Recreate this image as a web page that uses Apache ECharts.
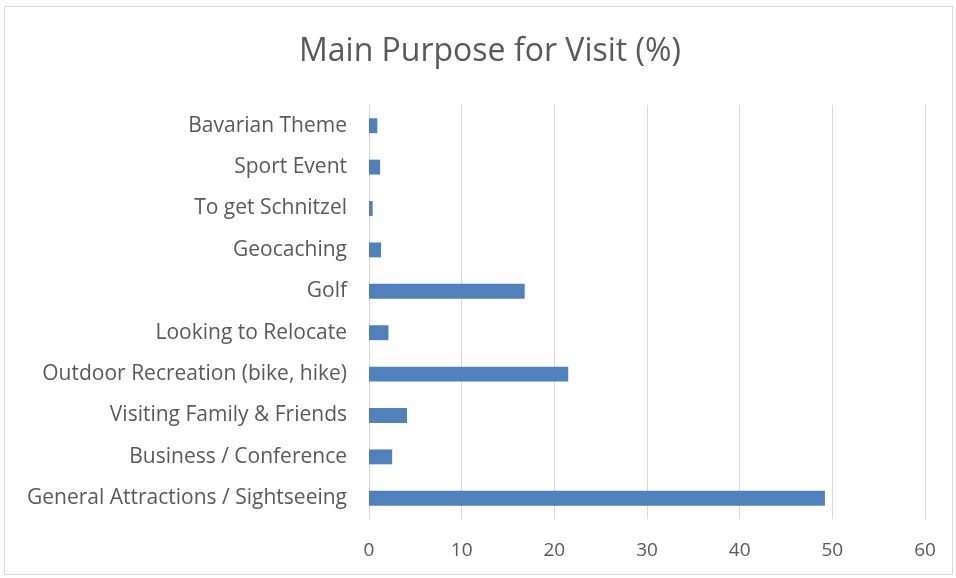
<!DOCTYPE html>
<html>
<head>
<meta charset="UTF-8">
<title></title>
<script src="https://cdn.jsdelivr.net/npm/echarts@6/dist/echarts.min.js"></script>
<style>
  body { margin: 0; background: #fff; }
</style>
</head>
<body>
	<div id="main" style="width: 956px; height: 578px;"></div>
	<script>
		// categories bottom-to-top, as the category axis draws them
		var purposes = ['General Attractions / Sightseeing', 'Business / Conference', 'Visiting Family & Friends',
			'Outdoor Recreation (bike, hike)', 'Looking to Relocate', 'Golf', 'Geocaching',
			'To get Schnitzel', 'Sport Event', 'Bavarian Theme'];
		var percents = [49.2, 2.5, 4.1, 21.5, 2.1, 16.8, 1.3, 0.4, 1.2, 0.9];
		var xTicks = [0, 10, 20, 30, 40, 50, 60];

		var myChart = echarts.init(document.getElementById('main'));

		var option = {
			animation: false,
			textStyle: { fontFamily: 'Open Sans' },
			title: {
				text: 'Main Purpose for Visit (%)',
				left: 294,
				top: 31,
				textStyle: { fontSize: 32, fontWeight: 'normal', color: '#595959', fontFamily: 'Open Sans' }
			},
			graphic: [{
				type: 'rect',
				shape: { x: 4.5, y: 6.5, width: 948, height: 568 },
				style: { fill: 'none', stroke: '#d9d9d9', lineWidth: 1 },
				silent: true
			}],
			grid: { left: 369, right: 31, top: 105, bottom: 59 },
			xAxis: {
				type: 'value',
				min: xTicks[0],
				max: xTicks[xTicks.length - 1],
				interval: 10,
				axisLine: { show: false },
				axisTick: { show: false },
				axisLabel: { color: '#595959', fontSize: 19, margin: 22 },
				splitLine: { lineStyle: { color: '#d9d9d9', width: 1 } }
			},
			yAxis: {
				type: 'category',
				data: purposes,
				axisLine: { show: true, lineStyle: { color: '#d9d9d9' } },
				axisTick: { show: false },
				axisLabel: { color: '#595959', fontSize: 21, margin: 22 }
			},
			series: [{
				type: 'bar',
				data: percents,
				barWidth: '36%',
				itemStyle: { color: '#4f81bd' }
			}]
		};

		myChart.setOption(option);
	</script>
</body>
</html>
